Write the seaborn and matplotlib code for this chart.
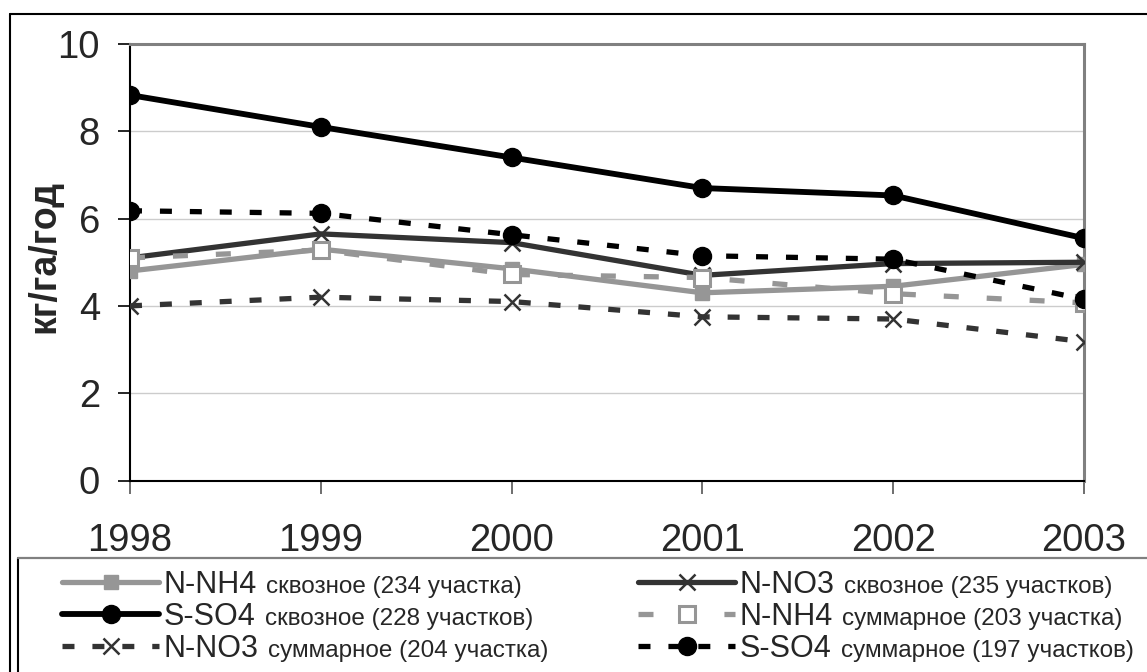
import matplotlib
matplotlib.use("Agg")
import matplotlib.pyplot as plt
import seaborn as sns
from matplotlib.lines import Line2D

# ---- data -------------------------------------------------------------
years = [1998, 1999, 2000, 2001, 2002, 2003]

nh4_through = [4.80, 5.30, 4.85, 4.30, 4.45, 4.95]
no3_through = [5.10, 5.65, 5.45, 4.70, 4.97, 5.00]
so4_through = [8.83, 8.10, 7.40, 6.70, 6.53, 5.55]
nh4_total = [5.10, 5.28, 4.72, 4.65, 4.28, 4.07]
no3_total = [4.00, 4.20, 4.10, 3.75, 3.70, 3.18]
so4_total = [6.18, 6.12, 5.63, 5.15, 5.07, 4.15]

series_names = ["N-NH4", "N-NO3", "S-SO4", "N-NH4", "N-NO3", "S-SO4"]
series_notes = [
    "сквозное (234 участка)",
    "сквозное (235 участков)",
    "сквозное (228 участков)",
    "суммарное (203 участка)",
    "суммарное (204 участка)",
    "суммарное (197 участков)",
]
y_label = "кг/га/год"
y_ticks = [0, 2, 4, 6, 8, 10]

# ---- styling ----------------------------------------------------------
sns.set_style("white")
plt.rcParams["font.family"] = ["Liberation Sans", "DejaVu Sans"]

GRAY = "#969696"
DARK = "#333333"
BLACK = "#000000"

styles = [
    dict(color=GRAY, marker="s", markersize=10.5, markerfacecolor=GRAY,
         markeredgecolor=GRAY, markeredgewidth=1.0, linewidth=3.8, linestyle="-"),
    dict(color=DARK, marker="x", markersize=11, markerfacecolor=DARK,
         markeredgecolor=DARK, markeredgewidth=1.8, linewidth=3.8, linestyle="-"),
    dict(color=BLACK, marker="o", markersize=13, markerfacecolor=BLACK,
         markeredgecolor=BLACK, markeredgewidth=1.0, linewidth=4.2, linestyle="-"),
    dict(color=GRAY, marker="s", markersize=12, markerfacecolor="white",
         markeredgecolor=GRAY, markeredgewidth=2.2, linewidth=3.8,
         linestyle=(0, (2.84, 5.3))),
    dict(color=DARK, marker="x", markersize=11, markerfacecolor=DARK,
         markeredgecolor=DARK, markeredgewidth=1.8, linewidth=3.8,
         linestyle=(0, (2.27, 3.4))),
    dict(color=BLACK, marker="o", markersize=13, markerfacecolor=BLACK,
         markeredgecolor=BLACK, markeredgewidth=1.0, linewidth=3.8,
         linestyle=(0, (2.27, 3.4))),
]

series_values = [nh4_through, no3_through, so4_through,
                 nh4_total, no3_total, so4_total]

W, H = 1147, 672
fig = plt.figure(figsize=(W / 100, H / 100), dpi=100)
ax = fig.add_axes([130 / W, 1 - 480.5 / H, (1084 - 130) / W, (480.5 - 44) / H])

handles = []
for i, (vals, st) in enumerate(zip(series_values, styles)):
    sns.lineplot(x=years, y=vals, ax=ax, legend=False, zorder=3 + i, **st)
    handles.append(ax.get_lines()[-1])

# ---- axes -------------------------------------------------------------
ax.set_xlim(years[0], years[-1])
ax.set_ylim(0, 10)
ax.set_xticks(years)
ax.set_xticklabels([str(y) for y in years])
ax.set_yticks(y_ticks)
ax.set_yticklabels([str(t) for t in y_ticks])
ax.set_axisbelow(True)
ax.yaxis.grid(True, color="#cccccc", linewidth=1.0)
ax.xaxis.grid(False)

for side in ("top", "right"):
    ax.spines[side].set_color("#808080")
    ax.spines[side].set_linewidth(2.2)
for side in ("left", "bottom"):
    ax.spines[side].set_color(BLACK)
    ax.spines[side].set_linewidth(1.5)

ax.tick_params(axis="y", direction="out", length=8.6, width=1.2,
               color=BLACK, pad=13, labelsize=27.5, left=True)
ax.tick_params(axis="x", direction="out", length=9.4, width=1.2,
               color="#555555", pad=21, labelsize=27.5, bottom=True)

ax.set_ylabel(y_label, fontsize=27, fontweight="bold")
ax.yaxis.set_label_coords(-0.071, 0.514)

# ---- outer frames ----------------------------------------------------
fig.add_artist(Line2D([10 / W, 10 / W], [0, 1 - 14 / H],
                      transform=fig.transFigure, color=BLACK, lw=1.5))
fig.add_artist(Line2D([10 / W, 1], [1 - 14 / H, 1 - 14 / H],
                      transform=fig.transFigure, color=BLACK, lw=1.5))
fig.add_artist(Line2D([18 / W, 18 / W], [0, 1 - 558 / H],
                      transform=fig.transFigure, color=BLACK, lw=1.5))
fig.add_artist(Line2D([18 / W, 1], [1 - 558 / H, 1 - 558 / H],
                      transform=fig.transFigure, color="#808080", lw=1.6))

# ---- legend: two columns of three entries ------------------------------
big_size = 22
small_size = 17.5
legend_cols = [(62, [0, 2, 4]), (638, [1, 3, 5])]
legends = []
for x0, idx in legend_cols:
    leg = fig.legend([handles[i] for i in idx], [series_names[i] for i in idx],
                     loc="upper left", bbox_to_anchor=(x0 / W, 1 - 570 / H),
                     frameon=False, borderpad=0, borderaxespad=0,
                     handlelength=97 / 30.5, handletextpad=0.13,
                     labelspacing=0.06, fontsize=big_size)
    legends.append((leg, idx))

fig.canvas.draw()
renderer = fig.canvas.get_renderer()
for leg, idx in legends:
    for txt, i in zip(leg.get_texts(), idx):
        bb = txt.get_window_extent(renderer)
        _, _, lp_d = renderer.get_text_width_height_descent(
            "lp", txt.get_fontproperties(), ismath=False)
        baseline = bb.y0 + lp_d
        fig.text((bb.x1 + 10) / W, baseline / H, series_notes[i],
                 fontsize=small_size, ha="left", va="baseline")

fig.savefig("out.png", dpi=100, facecolor="white")
